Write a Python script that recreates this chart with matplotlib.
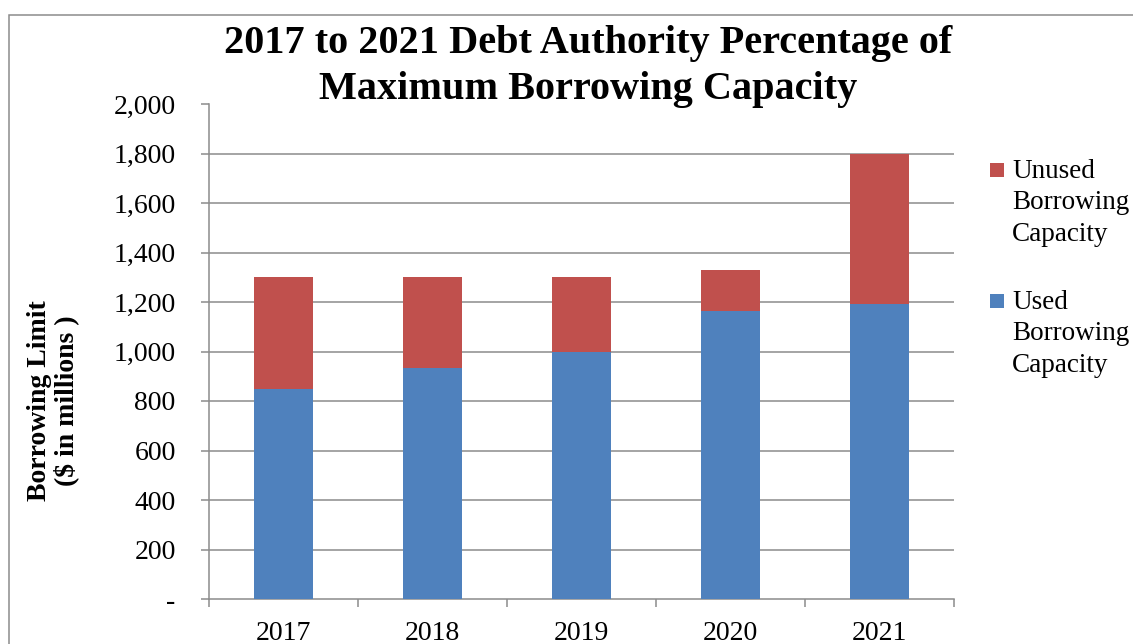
import matplotlib
matplotlib.use("Agg")
import matplotlib.pyplot as plt
from matplotlib.patches import Rectangle
from matplotlib.ticker import FuncFormatter

years = ["2017", "2018", "2019", "2020", "2021"]
used = [848, 933, 998, 1163, 1190]
unused = [452, 367, 302, 167, 610]

blue = "#4F81BD"
red = "#C0504D"
grey = "#8C8C8C"
font = "Liberation Serif"

W, H = 1133, 644
fig = plt.figure(figsize=(W / 100, H / 100), dpi=100)
ax = fig.add_axes([209 / W, 1 - 599 / H, (954 - 209) / W, (599 - 104) / H])

x = range(len(years))
ax.bar(x, used, width=0.4, color=blue, label="Used\nBorrowing\nCapacity", zorder=3)
ax.bar(x, unused, width=0.4, bottom=used, color=red, label="Unused\nBorrowing\nCapacity", zorder=3)

ax.set_xlim(-0.5, len(years) - 0.5)
ax.set_ylim(0, 2000)
ax.set_yticks(range(0, 2001, 200))
ax.yaxis.set_major_formatter(FuncFormatter(lambda v, p: "-" if v == 0 else f"{int(v):,}"))
ax.set_xticks(list(x))
ax.set_xticklabels(years)
ax.set_xticks([i - 0.5 for i in range(len(years) + 1)], minor=True)
ax.tick_params(axis="x", which="major", length=0, pad=16, labelsize=20, labelcolor="black")
ax.tick_params(axis="x", which="minor", length=6, width=1.1, color=grey, direction="out")
ax.tick_params(axis="y", which="major", length=6, width=1.1, color=grey, direction="out",
               pad=18, labelsize=20)
for lab in ax.get_xticklabels() + ax.get_yticklabels():
    lab.set_fontfamily(font)

for s in ["top", "right"]:
    ax.spines[s].set_visible(False)
for s in ["left", "bottom"]:
    ax.spines[s].set_color(grey)
    ax.spines[s].set_linewidth(1.1)

for v in range(200, 2000, 200):
    ax.axhline(v, color=grey, linewidth=1.1, zorder=1)

fig.text(588 / W, 1 - 66.5 / H,
         "2017 to 2021 Debt Authority Percentage of\nMaximum Borrowing Capacity",
         ha="center", va="center", fontsize=29, fontweight="bold", family=font,
         linespacing=1.32)

fig.text(53 / W, 1 - 401 / H, "Borrowing Limit\n($ in millions )", rotation=90,
         ha="center", va="center", fontsize=20, fontweight="bold", family=font,
         linespacing=1.1, multialignment="center")

# legend
entries = [(red, "Unused\nBorrowing\nCapacity", 170), (blue, "Used\nBorrowing\nCapacity", 301)]
for col, txt, yc in entries:
    fig.patches.append(Rectangle((990 / W, 1 - (yc + 7) / H), 14 / W, 14 / H,
                                 transform=fig.transFigure, facecolor=col, edgecolor="none"))
    fig.text(1012 / W, 1 - (yc - 11) / H, txt, ha="left", va="top", fontsize=19.5,
             family=font, linespacing=1.33)

# outer chart border
fig.patches.append(Rectangle((8.5 / W, -0.1), 1.2, 1 - 14.5 / H + 0.1,
                             transform=fig.transFigure, facecolor="none",
                             edgecolor=grey, linewidth=1.1))

fig.savefig("out.png", dpi=100)
